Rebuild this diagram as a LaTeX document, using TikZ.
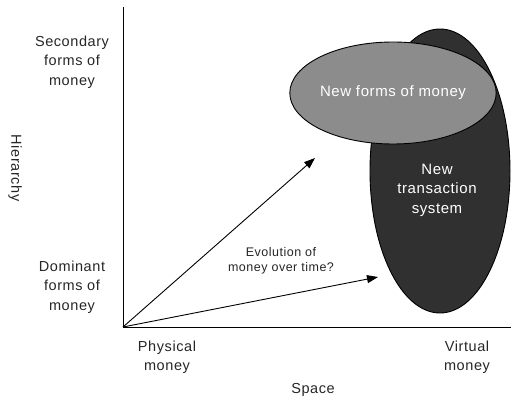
\documentclass[tikz,border=0pt]{standalone}
\usepackage{fontspec}
\setmainfont{Liberation Sans}[LetterSpace=4]
\usetikzlibrary{arrows.meta,shapes.geometric}
\definecolor{formsgray}{HTML}{8C8C8C}
\definecolor{systemgray}{HTML}{303030}
\begin{document}
\begin{tikzpicture}[x=1pt,y=-1pt,
  lbl/.style={font=\fontsize{14.5}{19.5}\selectfont, align=center, inner sep=0pt, text=black!85},
  smalllbl/.style={font=\fontsize{12.5}{15}\selectfont, align=center, inner sep=0pt, text=black!85},
  axis/.style={line width=0.9pt, black},
  evo/.style={line width=0.9pt, black, -{Triangle[length=11pt,width=8pt]}},
  blob/.style={ellipse, draw=black, line width=0.9pt, inner sep=0pt}]
\useasboundingbox (0,0) rectangle (511,398);

% axes
\coordinate (O) at (123,327);
\coordinate (ytop) at (123,7);
\coordinate (xend) at (511,327);
\draw[axis] (ytop) -- (O) -- (xend);

% the two regions
\node[blob, fill=systemgray, minimum width=140pt, minimum height=284pt] (sys) at (440,171) {};
\node[blob, fill=formsgray, minimum width=180pt, minimum height=102pt,
      font=\fontsize{15}{19}\selectfont, text=white] (forms) at (393,93) {New forms of money};
\node[lbl, text=white, font=\fontsize{15}{19.5}\selectfont] (systxt) at (437,190) {New\\transaction\\system};

% evolution arrows
\coordinate (tipA) at (315,158);
\coordinate (tipB) at (378,277);
\draw[evo] (O) -- (tipA);
\draw[evo] (O) -- (tipB);
\node[smalllbl] (evol) at (281,261) {Evolution of\\money over time?};

% axis labels
\node[lbl] (second) at (72,62) {Secondary\\forms of\\money};
\node[lbl] (domin) at (72,287) {Dominant\\forms of\\money};
\node[lbl, rotate=-90] (hier) at (15,168) {Hierarchy};
\node[lbl] (phys) at (167,357) {Physical\\money};
\node[lbl] (virt) at (467,357) {Virtual\\money};
\node[lbl] (space) at (313,390) {Space};
\end{tikzpicture}
\end{document}
